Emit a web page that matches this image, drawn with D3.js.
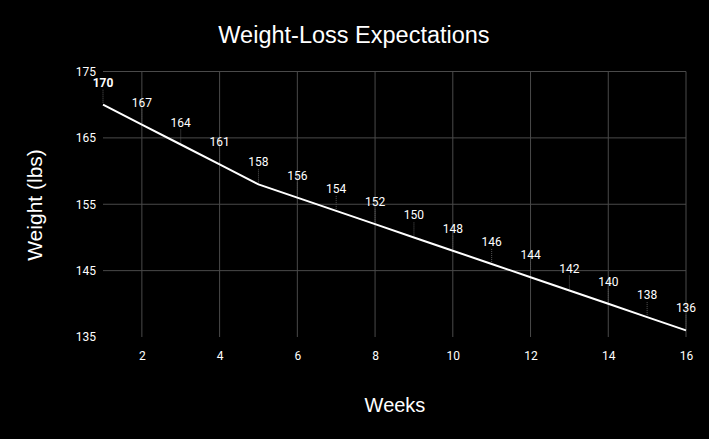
<!DOCTYPE html>
<html>
<head>
<meta charset="utf-8">
<script src="https://cdn.jsdelivr.net/npm/d3@7"></script>
<style>
  html, body { margin: 0; padding: 0; background: #000; }
  svg { display: block; }
  text { font-family: "Liberation Sans", Arial, sans-serif; fill: #fff; }
  .tick-label, .data-label { font-family: Roboto, "Liberation Sans", sans-serif; }
</style>
</head>
<body>
<div id="chart"></div>
<script>
// data
var weeks = [1, 2, 3, 4, 5, 6, 7, 8, 9, 10, 11, 12, 13, 14, 15, 16];
var weights = [170, 167, 164, 161, 158, 156, 154, 152, 150, 148, 146, 144, 142, 140, 138, 136];
var xTicks = [2, 4, 6, 8, 10, 12, 14, 16];
var yTicks = [135, 145, 155, 165, 175];

var width = 709, height = 439;
var margin = { top: 71.5, right: 23, bottom: 102, left: 103 };

var svg = d3.select('#chart').append('svg')
    .attr('width', width)
    .attr('height', height);

svg.append('rect')
    .attr('width', width)
    .attr('height', height)
    .attr('fill', '#000');

var x = d3.scaleLinear()
    .domain([1, 16])
    .range([margin.left, width - margin.right]);

var y = d3.scaleLinear()
    .domain([135, 175])
    .range([height - margin.bottom, margin.top]);

// gridlines (no line on the 135 baseline)
svg.append('g').selectAll('line')
    .data(yTicks.filter(function (d) { return d !== 135; }))
    .enter().append('line')
      .attr('x1', x(1))
      .attr('x2', x(16))
      .attr('y1', function (d) { return y(d); })
      .attr('y2', function (d) { return y(d); })
      .attr('stroke', '#4a4a4a')
      .attr('stroke-width', 1);

svg.append('g').selectAll('line')
    .data(xTicks)
    .enter().append('line')
      .attr('x1', function (d) { return x(d); })
      .attr('x2', function (d) { return x(d); })
      .attr('y1', y(175))
      .attr('y2', y(135))
      .attr('stroke', '#4a4a4a')
      .attr('stroke-width', 1);

// axes, labels only
var yAxis = svg.append('g')
    .attr('transform', 'translate(' + (margin.left - 7) + ',0)')
    .call(d3.axisLeft(y).tickValues(yTicks).tickSize(0).tickPadding(0));
yAxis.select('.domain').remove();
yAxis.selectAll('text')
    .attr('class', 'tick-label')
    .attr('fill', '#fff')
    .style('font-size', '12px');

var xAxis = svg.append('g')
    .attr('transform', 'translate(0,' + (height - margin.bottom + 14) + ')')
    .call(d3.axisBottom(x).tickValues(xTicks).tickSize(0).tickPadding(0));
xAxis.select('.domain').remove();
xAxis.selectAll('text')
    .attr('class', 'tick-label')
    .attr('fill', '#fff')
    .style('font-size', '12px');

var points = weeks.map(function (w, i) { return { week: w, weight: weights[i] }; });

// leader lines from labels to points
svg.append('g').selectAll('line')
    .data(points)
    .enter().append('line')
      .attr('x1', function (d) { return x(d.week); })
      .attr('x2', function (d) { return x(d.week); })
      .attr('y1', function (d) { return y(d.weight) - 15; })
      .attr('y2', function (d) { return y(d.weight) - 2; })
      .attr('stroke', '#555')
      .attr('stroke-width', 1)
      .attr('stroke-dasharray', '1,1');

var line = d3.line()
    .x(function (d) { return x(d.week); })
    .y(function (d) { return y(d.weight); });

svg.append('path')
    .datum(points)
    .attr('d', line)
    .attr('fill', 'none')
    .attr('stroke', '#fff')
    .attr('stroke-width', 2);

svg.append('g').selectAll('text')
    .data(points)
    .enter().append('text')
      .attr('class', 'data-label')
      .attr('x', function (d) { return x(d.week); })
      .attr('y', function (d) { return y(d.weight) - 18; })
      .attr('text-anchor', 'middle')
      .style('font-size', '12px')
      .style('font-weight', function (d, i) { return i === 0 ? 'bold' : 'normal'; })
      .text(function (d) { return d.weight; });

// titles
svg.append('text')
    .attr('x', 354)
    .attr('y', 43)
    .attr('text-anchor', 'middle')
    .style('font-size', '23.5px')
    .text('Weight-Loss Expectations');

svg.append('text')
    .attr('x', 395)
    .attr('y', 412)
    .attr('text-anchor', 'middle')
    .style('font-size', '20px')
    .text('Weeks');

svg.append('text')
    .attr('transform', 'translate(42,205)rotate(-90)')
    .attr('text-anchor', 'middle')
    .style('font-size', '21px')
    .text('Weight (lbs)');
</script>
</body>
</html>
